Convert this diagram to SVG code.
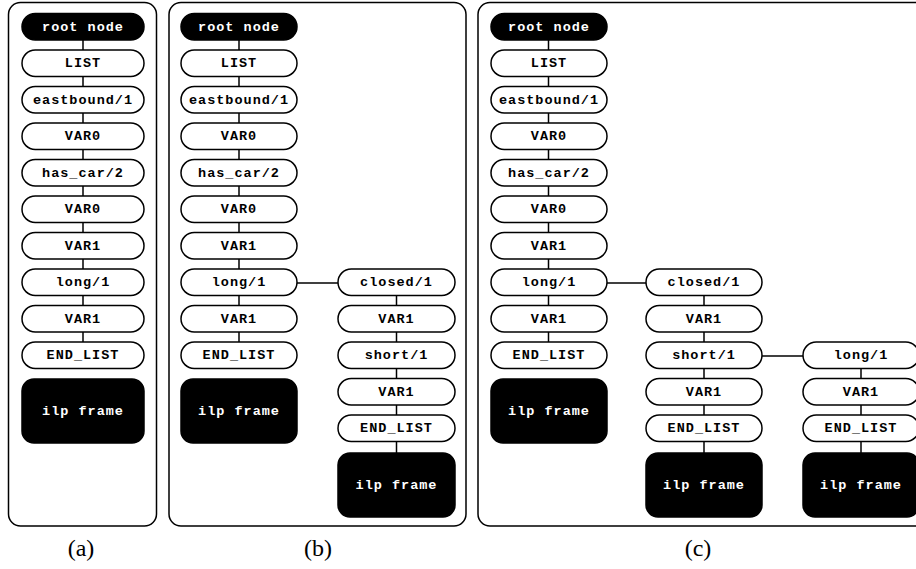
<svg xmlns="http://www.w3.org/2000/svg" width="916" height="569" viewBox="0 0 916 569">
<defs>
<style>
.frame{fill:#fff;stroke:#000;stroke-width:1.5}
.pill{fill:#fff;stroke:#000;stroke-width:1.5}
.dark{fill:#000;stroke:#000;stroke-width:1.5}
.t{font-family:"Liberation Mono","Courier New",monospace;font-weight:bold;font-size:13.5px;letter-spacing:1px;text-anchor:middle;dominant-baseline:central;fill:#000}
.tw{fill:#fff}
.cap{font-family:"Liberation Serif","Times New Roman",serif;font-size:24px;text-anchor:middle;fill:#000}
.c{stroke:#000;stroke-width:1.5;fill:none}
</style>
</defs>
<rect width="916" height="569" fill="#fff"/>
<g id="frames">
<rect class="frame" x="8.5" y="2.5" width="148" height="523.5" rx="12"/>
<rect class="frame" x="169" y="2.5" width="297" height="523.5" rx="12"/>
<rect class="frame" x="478" y="2.5" width="460" height="523.5" rx="12"/>
</g>
<g id="connectors">
<path class="c" d="M83 40V342"/>
<path class="c" d="M239 40V342"/>
<path class="c" d="M548.5 40V342"/>
<path class="c" d="M297 283H338"/>
<path class="c" d="M396.5 296V453"/>
<path class="c" d="M607 283H646"/>
<path class="c" d="M704 296V453"/>
<path class="c" d="M762 356H803"/>
<path class="c" d="M861 369V453"/>
</g>
<g id="a">
<g id="a-root"><rect class="dark" x="22" y="13.5" width="122" height="26.5" rx="13.25"/><text class="t tw" x="83" y="27">root node</text></g>
<g id="a-list"><rect class="pill" x="22" y="50" width="122" height="26.5" rx="13.25"/><text class="t" x="83" y="63.5">LIST</text></g>
<g id="a-east"><rect class="pill" x="22" y="86.5" width="122" height="26.5" rx="13.25"/><text class="t" x="83" y="100">eastbound/1</text></g>
<g id="a-var0a"><rect class="pill" x="22" y="123" width="122" height="26.5" rx="13.25"/><text class="t" x="83" y="136.5">VAR0</text></g>
<g id="a-hascar"><rect class="pill" x="22" y="159.5" width="122" height="26.5" rx="13.25"/><text class="t" x="83" y="173">has_car/2</text></g>
<g id="a-var0b"><rect class="pill" x="22" y="196" width="122" height="26.5" rx="13.25"/><text class="t" x="83" y="209.5">VAR0</text></g>
<g id="a-var1a"><rect class="pill" x="22" y="232.5" width="122" height="26.5" rx="13.25"/><text class="t" x="83" y="246">VAR1</text></g>
<g id="a-long"><rect class="pill" x="22" y="269" width="122" height="26.5" rx="13.25"/><text class="t" x="83" y="282.5">long/1</text></g>
<g id="a-var1b"><rect class="pill" x="22" y="305.5" width="122" height="26.5" rx="13.25"/><text class="t" x="83" y="319">VAR1</text></g>
<g id="a-end"><rect class="pill" x="22" y="342" width="122" height="26.5" rx="13.25"/><text class="t" x="83" y="355.5">END_LIST</text></g>
<g id="a-ilp"><rect class="dark" x="22" y="379" width="122" height="64" rx="12"/><text class="t tw" x="83" y="411">ilp frame</text></g>
</g>
<g id="b">
<g id="b-root"><rect class="dark" x="181" y="13.5" width="116" height="26.5" rx="13.25"/><text class="t tw" x="239" y="27">root node</text></g>
<g id="b-list"><rect class="pill" x="181" y="50" width="116" height="26.5" rx="13.25"/><text class="t" x="239" y="63.5">LIST</text></g>
<g id="b-east"><rect class="pill" x="181" y="86.5" width="116" height="26.5" rx="13.25"/><text class="t" x="239" y="100">eastbound/1</text></g>
<g id="b-var0a"><rect class="pill" x="181" y="123" width="116" height="26.5" rx="13.25"/><text class="t" x="239" y="136.5">VAR0</text></g>
<g id="b-hascar"><rect class="pill" x="181" y="159.5" width="116" height="26.5" rx="13.25"/><text class="t" x="239" y="173">has_car/2</text></g>
<g id="b-var0b"><rect class="pill" x="181" y="196" width="116" height="26.5" rx="13.25"/><text class="t" x="239" y="209.5">VAR0</text></g>
<g id="b-var1a"><rect class="pill" x="181" y="232.5" width="116" height="26.5" rx="13.25"/><text class="t" x="239" y="246">VAR1</text></g>
<g id="b-long"><rect class="pill" x="181" y="269" width="116" height="26.5" rx="13.25"/><text class="t" x="239" y="282.5">long/1</text></g>
<g id="b-var1b"><rect class="pill" x="181" y="305.5" width="116" height="26.5" rx="13.25"/><text class="t" x="239" y="319">VAR1</text></g>
<g id="b-end"><rect class="pill" x="181" y="342" width="116" height="26.5" rx="13.25"/><text class="t" x="239" y="355.5">END_LIST</text></g>
<g id="b-ilp"><rect class="dark" x="181" y="379" width="116" height="64" rx="12"/><text class="t tw" x="239" y="411">ilp frame</text></g>
<g id="b-closed"><rect class="pill" x="338" y="269" width="117" height="26.5" rx="13.25"/><text class="t" x="396.5" y="282.5">closed/1</text></g>
<g id="b-var1c"><rect class="pill" x="338" y="305.5" width="117" height="26.5" rx="13.25"/><text class="t" x="396.5" y="319">VAR1</text></g>
<g id="b-short"><rect class="pill" x="338" y="342" width="117" height="26.5" rx="13.25"/><text class="t" x="396.5" y="355.5">short/1</text></g>
<g id="b-var1d"><rect class="pill" x="338" y="378.5" width="117" height="26.5" rx="13.25"/><text class="t" x="396.5" y="392">VAR1</text></g>
<g id="b-end2"><rect class="pill" x="338" y="415" width="117" height="26.5" rx="13.25"/><text class="t" x="396.5" y="428.5">END_LIST</text></g>
<g id="b-ilp2"><rect class="dark" x="338" y="453" width="117" height="64" rx="12"/><text class="t tw" x="396.5" y="485">ilp frame</text></g>
</g>
<g id="c">
<g id="c-root"><rect class="dark" x="491" y="13.5" width="116" height="26.5" rx="13.25"/><text class="t tw" x="549" y="27">root node</text></g>
<g id="c-list"><rect class="pill" x="491" y="50" width="116" height="26.5" rx="13.25"/><text class="t" x="549" y="63.5">LIST</text></g>
<g id="c-east"><rect class="pill" x="491" y="86.5" width="116" height="26.5" rx="13.25"/><text class="t" x="549" y="100">eastbound/1</text></g>
<g id="c-var0a"><rect class="pill" x="491" y="123" width="116" height="26.5" rx="13.25"/><text class="t" x="549" y="136.5">VAR0</text></g>
<g id="c-hascar"><rect class="pill" x="491" y="159.5" width="116" height="26.5" rx="13.25"/><text class="t" x="549" y="173">has_car/2</text></g>
<g id="c-var0b"><rect class="pill" x="491" y="196" width="116" height="26.5" rx="13.25"/><text class="t" x="549" y="209.5">VAR0</text></g>
<g id="c-var1a"><rect class="pill" x="491" y="232.5" width="116" height="26.5" rx="13.25"/><text class="t" x="549" y="246">VAR1</text></g>
<g id="c-long"><rect class="pill" x="491" y="269" width="116" height="26.5" rx="13.25"/><text class="t" x="549" y="282.5">long/1</text></g>
<g id="c-var1b"><rect class="pill" x="491" y="305.5" width="116" height="26.5" rx="13.25"/><text class="t" x="549" y="319">VAR1</text></g>
<g id="c-end"><rect class="pill" x="491" y="342" width="116" height="26.5" rx="13.25"/><text class="t" x="549" y="355.5">END_LIST</text></g>
<g id="c-ilp"><rect class="dark" x="491" y="379" width="116" height="64" rx="12"/><text class="t tw" x="549" y="411">ilp frame</text></g>
<g id="c-closed"><rect class="pill" x="646" y="269" width="116" height="26.5" rx="13.25"/><text class="t" x="704" y="282.5">closed/1</text></g>
<g id="c-var1c"><rect class="pill" x="646" y="305.5" width="116" height="26.5" rx="13.25"/><text class="t" x="704" y="319">VAR1</text></g>
<g id="c-short"><rect class="pill" x="646" y="342" width="116" height="26.5" rx="13.25"/><text class="t" x="704" y="355.5">short/1</text></g>
<g id="c-var1d"><rect class="pill" x="646" y="378.5" width="116" height="26.5" rx="13.25"/><text class="t" x="704" y="392">VAR1</text></g>
<g id="c-end2"><rect class="pill" x="646" y="415" width="116" height="26.5" rx="13.25"/><text class="t" x="704" y="428.5">END_LIST</text></g>
<g id="c-ilp2"><rect class="dark" x="646" y="453" width="116" height="64" rx="12"/><text class="t tw" x="704" y="485">ilp frame</text></g>
<g id="c-long2"><rect class="pill" x="803" y="342" width="116" height="26.5" rx="13.25"/><text class="t" x="861" y="355.5">long/1</text></g>
<g id="c-var1e"><rect class="pill" x="803" y="378.5" width="116" height="26.5" rx="13.25"/><text class="t" x="861" y="392">VAR1</text></g>
<g id="c-end3"><rect class="pill" x="803" y="415" width="116" height="26.5" rx="13.25"/><text class="t" x="861" y="428.5">END_LIST</text></g>
<g id="c-ilp3"><rect class="dark" x="803" y="453" width="116" height="64" rx="12"/><text class="t tw" x="861" y="485">ilp frame</text></g>
</g>
<g id="captions">
<text class="cap" x="81" y="556">(a)</text>
<text class="cap" x="318" y="556">(b)</text>
<text class="cap" x="698" y="556">(c)</text>
</g>
</svg>
